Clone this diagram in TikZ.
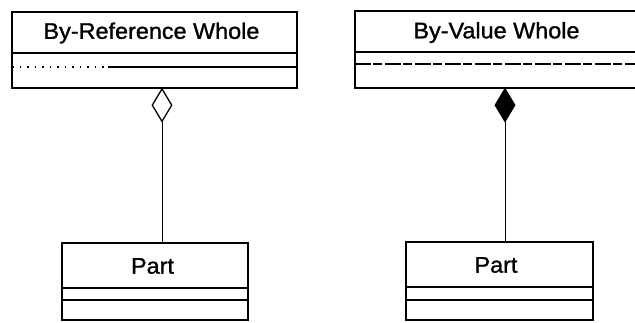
\documentclass[tikz,border=0pt]{standalone}
\usepackage{fontspec}
\setmainfont{Liberation Sans}[FakeBold=1.2]
\newfontfamily\labelfont{Liberation Sans}[FakeBold=1.2,FakeStretch=1.04]
\usetikzlibrary{shapes.geometric}
\begin{document}
\begin{tikzpicture}[x=1pt,y=-1pt,
  classname/.style={draw=none,inner sep=0pt,font=\labelfont\fontsize{22.5}{24}\selectfont},
  boxline/.style={line width=1.8pt},
  sepline/.style={line width=1.6pt},
  conn/.style={line width=0.8pt},
  aggr/.style={diamond,draw,line width=1.3pt,inner sep=0pt,minimum width=20pt,minimum height=33pt,anchor=north},
  comp/.style={aggr,fill=black}]
\useasboundingbox (0,0) rectangle (635,323);
% left whole
\node[classname] (n1) at (151.5,33) {By-Reference Whole};
\draw[boxline] (12,12) rectangle (297,88);
\draw[sepline] (12,53) -- (297,53);
\draw[line width=1.2pt,dash pattern=on 1.5pt off 6pt] (12,67) -- (108,67);
\draw[sepline] (108,67) -- (297,67);
\coordinate (w1b) at (162,88);
\node[aggr] (d1) at (w1b) {};
% right whole
\node[classname] (n2) at (496.5,32.5) {By-Value Whole};
\draw[boxline] (640,11) -- (355,11) -- (355,88) -- (640,88);
\draw[sepline] (355,52) -- (640,52);
\draw[line width=1.3pt,dash pattern=on 16pt off 2pt on 9pt off 3pt] (355,64) -- (640,64);
\coordinate (w2b) at (505,88);
\node[comp] (d2) at (w2b) {};
% left part
\node[classname] (p1) at (152.5,266) {Part};
\draw[boxline] (62,243) rectangle (248,320);
\draw[sepline] (62,288) -- (248,288);
\draw[sepline] (62,300) -- (248,300);
\coordinate (p1t) at (162,243);
% right part
\node[classname] (p2) at (496,265) {Part};
\draw[boxline] (406,242) rectangle (593,320);
\draw[sepline] (406,287) -- (593,287);
\draw[sepline] (406,300) -- (593,300);
\coordinate (p2t) at (505,242);
% connectors
\draw[conn] (d1.south) -- (p1t);
\draw[conn] (d2.south) -- (p2t);
\end{tikzpicture}
\end{document}
